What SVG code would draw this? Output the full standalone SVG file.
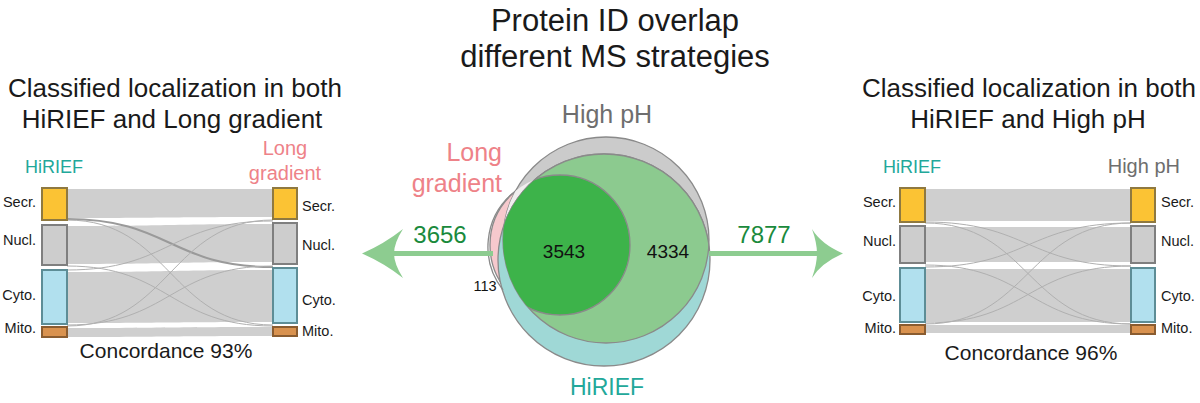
<svg xmlns="http://www.w3.org/2000/svg" width="1200" height="403" viewBox="0 0 1200 403">
<defs>
<style>
text{font-family:"Liberation Sans",Arial,sans-serif;}
.title{font-size:31px;fill:#1a1a1a;text-anchor:middle;}
.head{font-size:26px;fill:#1a1a1a;text-anchor:middle;}
.lab{font-size:14.5px;fill:#1a1a1a;}
.conc{font-size:21px;fill:#1a1a1a;text-anchor:middle;}
.teal{fill:#22a89a;}
.pink{fill:#ee8288;}
.grayt{fill:#6e6e6e;}
.num{font-size:24px;fill:#1a8a3c;text-anchor:middle;}
.vnum{font-size:19px;fill:#111;text-anchor:middle;}
.band{fill:#cfcfcf;stroke:none;}
.strand{fill:none;stroke:#b0b0b0;stroke-width:1;}
.strandd{fill:none;stroke:#9a9a9a;stroke-width:2;}
.secr{fill:#fbc334;stroke:#8f7940;stroke-width:2;}
.nucl{fill:#cdcdcd;stroke:#7f7f7f;stroke-width:2;}
.cyto{fill:#b1e0ee;stroke:#5d8d96;stroke-width:2;}
.mito{fill:#d9924f;stroke:#8a5c30;stroke-width:2;}
.arrow{fill:#8dcc90;}
.vc{stroke:#8a8a8a;stroke-width:1.3;}
</style>
<clipPath id="clipGray"><circle cx="606" cy="240" r="103"/></clipPath>
<clipPath id="clipTeal"><circle cx="604" cy="260" r="106"/></clipPath>
</defs>

<g id="title">
<text class="title" x="615" y="31">Protein ID overlap</text>
<text class="title" x="615" y="67">different MS strategies</text>
</g>

<!-- Left sankey -->
<g id="left-sankey">
<text class="head" x="175" y="97">Classified localization in both</text>
<text class="head" x="172" y="128">HiRIEF and Long gradient</text>
<text class="teal" x="25" y="173" style="font-size:18px">HiRIEF</text>
<text class="pink" x="285" y="155" style="font-size:20px;text-anchor:middle">Long</text>
<text class="pink" x="285" y="180" style="font-size:20px;text-anchor:middle">gradient</text>
<g id="left-flows">
<path class="band" d="M67,189 C170,189 170,189 273,189 L273,217 C170,217 170,218 67,218 Z"/>
<path class="band" d="M67,226 C170,226 170,224 273,224 L273,262 C170,262 170,264 67,264 Z"/>
<path class="band" d="M67,272 C170,272 170,270 273,270 L273,322 C170,322 170,323 67,323 Z"/>
<path class="band" d="M67,328 C170,328 170,327 273,327 L273,336 C170,336 170,337 67,337 Z"/>
<path class="strandd" d="M67,219 C170,219 170,267 273,267"/>
<path class="strand" d="M67,220 C170,220 170,325 273,325"/>
<path class="strand" d="M67,326 C170,326 170,220 273,220"/>
<path class="strand" d="M67,270 C170,270 170,221 273,221"/>
<path class="strand" d="M67,266 C170,266 170,326 273,326"/>
<path class="strand" d="M67,325 C170,325 170,266 273,266"/>
</g>
<g id="left-boxes">
<rect class="secr" x="42" y="188" width="25" height="32"/>
<rect class="nucl" x="42" y="225" width="25" height="40"/>
<rect class="cyto" x="42" y="270" width="25" height="54"/>
<rect class="mito" x="42" y="327" width="25" height="10"/>
<rect class="secr" x="273" y="188" width="24" height="31"/>
<rect class="nucl" x="273" y="223" width="24" height="41"/>
<rect class="cyto" x="273" y="268" width="24" height="55"/>
<rect class="mito" x="273" y="327" width="24" height="9"/>
</g>
<g id="left-labels">
<text class="lab" x="36" y="207" text-anchor="end">Secr.</text>
<text class="lab" x="36" y="245" text-anchor="end">Nucl.</text>
<text class="lab" x="36" y="300" text-anchor="end">Cyto.</text>
<text class="lab" x="36" y="333" text-anchor="end">Mito.</text>
<text class="lab" x="302" y="211">Secr.</text>
<text class="lab" x="302" y="250">Nucl.</text>
<text class="lab" x="302" y="305">Cyto.</text>
<text class="lab" x="302" y="336">Mito.</text>
</g>
<text class="conc" x="166" y="358">Concordance 93%</text>
</g>

<!-- Venn -->
<g id="venn">
<text class="grayt" x="607" y="123" style="font-size:25px;text-anchor:middle">High pH</text>
<text class="pink" x="502" y="161" style="font-size:25px;text-anchor:end">Long</text>
<text class="pink" x="502" y="192" style="font-size:25px;text-anchor:end">gradient</text>
<circle id="c-longgradient" cx="560" cy="245" r="70" fill="#f6c9cd" class="vc"/>
<circle id="c-highph" cx="606" cy="240" r="103" fill="#cbcbcb" class="vc"/>
<circle cx="560" cy="245" r="70" fill="#f0eeee" clip-path="url(#clipGray)"/>
<circle id="c-hirief" cx="604" cy="260" r="106" fill="#9fd8d6" class="vc"/>
<g clip-path="url(#clipGray)">
<circle cx="604" cy="260" r="106" fill="#8cca8f" class="vc"/>
</g>
<circle cx="606" cy="240" r="103" fill="none" class="vc" clip-path="url(#clipTeal)"/>
<g clip-path="url(#clipGray)"><g clip-path="url(#clipTeal)">
<circle cx="560" cy="245" r="70" fill="#3db34a" class="vc"/>
</g></g>
<path d="M 513,193 A70,70 0 0 0 503,290" fill="none" class="vc"/>
<text class="vnum" x="564" y="258">3543</text>
<text class="vnum" x="668" y="258">4334</text>
<text x="485" y="291" style="font-size:14.5px;fill:#111;text-anchor:middle">113</text>
<text class="teal" x="607" y="395" style="font-size:23px;text-anchor:middle">HiRIEF</text>
</g>

<!-- Arrows -->
<g id="connectors">
<rect class="arrow" x="392" y="251" width="101" height="5"/>
<path class="arrow" d="M362,253.5 Q384,244 403,229 Q394,243 394,253.5 Q394,264 403,278 Q384,263 362,253.5 Z"/>
<rect class="arrow" x="709" y="251" width="110" height="5"/>
<path class="arrow" d="M843,253.5 Q821,244 812,229 Q817,243 817,253.5 Q817,264 812,278 Q821,263 843,253.5 Z"/>
<text class="num" x="440" y="243">3656</text>
<text class="num" x="764" y="243">7877</text>
</g>

<!-- Right sankey -->
<g id="right-sankey">
<text class="head" x="1029" y="97">Classified localization in both</text>
<text class="head" x="1028" y="128">HiRIEF and High pH</text>
<text class="teal" x="883" y="173" style="font-size:18px">HiRIEF</text>
<text class="grayt" x="1180" y="173" style="font-size:20px;text-anchor:end">High pH</text>
<g id="right-flows">
<path class="band" d="M925,189 L1131,189 L1131,221 L925,221 Z"/>
<path class="band" d="M925,227 L1131,227 L1131,262 L925,262 Z"/>
<path class="band" d="M925,269 L1131,269 L1131,322 L925,322 Z"/>
<path class="band" d="M925,325 L1131,325 L1131,333 L925,333 Z"/>
<path class="strand" d="M925,222 C1028,222 1028,266 1131,266"/>
<path class="strand" d="M925,223 C1028,223 1028,324 1131,324"/>
<path class="strand" d="M925,324 C1028,324 1028,223 1131,223"/>
<path class="strand" d="M925,267 C1028,267 1028,223 1131,223"/>
<path class="strand" d="M925,265 C1028,265 1028,324 1131,324"/>
<path class="strand" d="M925,323 C1028,323 1028,266 1131,266"/>
</g>
<g id="right-boxes">
<rect class="secr" x="900" y="188" width="25" height="34"/>
<rect class="nucl" x="900" y="226" width="25" height="37"/>
<rect class="cyto" x="900" y="268" width="25" height="54"/>
<rect class="mito" x="900" y="325" width="25" height="9"/>
<rect class="secr" x="1131" y="188" width="24" height="34"/>
<rect class="nucl" x="1131" y="226" width="24" height="37"/>
<rect class="cyto" x="1131" y="268" width="24" height="54"/>
<rect class="mito" x="1131" y="325" width="24" height="9"/>
</g>
<g id="right-labels">
<text class="lab" x="896" y="207" text-anchor="end">Secr.</text>
<text class="lab" x="896" y="246" text-anchor="end">Nucl.</text>
<text class="lab" x="896" y="301" text-anchor="end">Cyto.</text>
<text class="lab" x="896" y="333" text-anchor="end">Mito.</text>
<text class="lab" x="1161" y="207">Secr.</text>
<text class="lab" x="1161" y="246">Nucl.</text>
<text class="lab" x="1161" y="301">Cyto.</text>
<text class="lab" x="1161" y="333">Mito.</text>
</g>
<text class="conc" x="1031" y="360">Concordance 96%</text>
</g>
</svg>
